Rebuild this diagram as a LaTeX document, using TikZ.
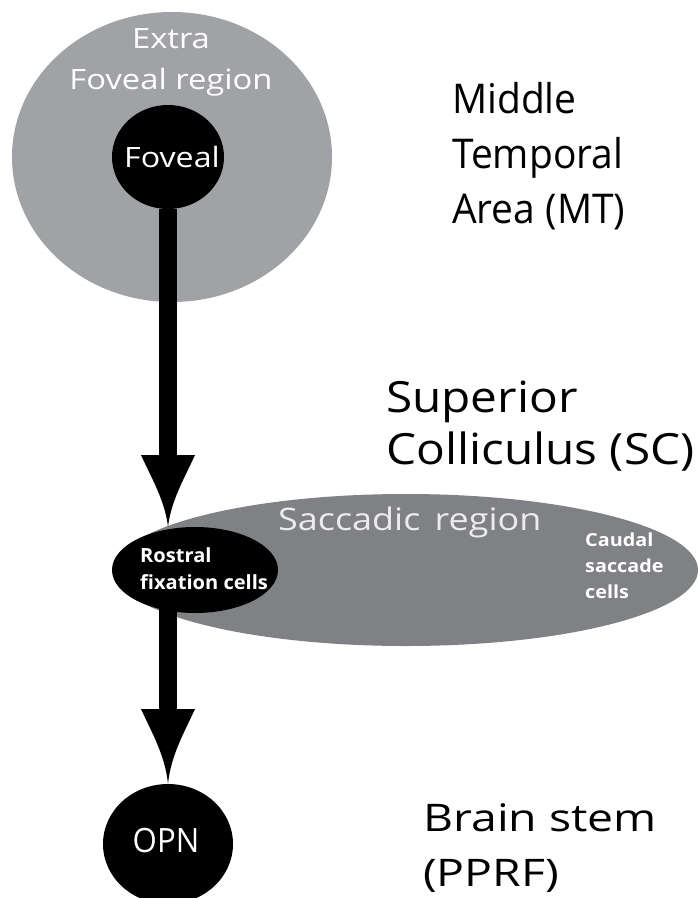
\documentclass[tikz,border=0pt]{standalone}
\usepackage{fontspec}
\setmainfont{Open Sans}
\usetikzlibrary{shapes.geometric,calc}
\definecolor{outergray}{RGB}{161,162,166}
\definecolor{sacgray}{RGB}{128,129,133}
\definecolor{sactext}{RGB}{236,236,238}
\newcommand\osf[3]{\fontspec{Open Sans}[FakeStretch=#1]\fontsize{#2bp}{#3bp}\selectfont}
\begin{document}
\begin{tikzpicture}[x=1bp,y=-1bp,
  region/.style={ellipse, inner sep=0pt, draw=none},
  lbl/.style={inner sep=0pt, align=left, anchor=base west},
  clbl/.style={inner sep=0pt, align=center, anchor=base},
  shaft/.style={line width=18bp, black},
  head/.style={fill=black}]
\fill[white] (0,0) rectangle (698,898);
\useasboundingbox (0,0) rectangle (698,898);
\clip (0,0) rectangle (698,898);
% Middle temporal area
\node[region, fill=outergray, minimum width=320bp, minimum height=290bp] (extra) at (172,157) {};
\node[region, fill=black, minimum width=112bp, minimum height=104bp] (fov) at (168,157) {};
\node[clbl, text=white, font={\osf{1.17}{28}{41}}] (extralbl) at (171,89) {Extra\\Foveal region};
\node[clbl, text=white, font={\osf{1.15}{28}{34}}] (fovlbl) at (172,167) {Foveal};
\coordinate (h1) at (168,455);
\draw[shaft] (fov.south) -- (h1);
% Superior colliculus
\node[region, fill=sacgray, minimum width=584bp, minimum height=152bp] (sac) at (406,570) {};
\node[region, minimum width=166bp, minimum height=86bp] (rost) at (195,570) {};
\coordinate (tip1) at (rost.north -| fov);
\fill[head] ($(h1)+(-27,0)$) -- ($(h1)+(27,0)$) .. controls ($(h1)+(16,24)$) and ($(h1)+(3,46)$) .. (tip1) .. controls ($(h1)+(-3,46)$) and ($(h1)+(-16,24)$) .. cycle;
\coordinate (h2) at (168,709);
\draw[shaft] (rost.center -| fov) -- (h2);
\fill[black] (rost.center) ellipse[x radius=83, y radius=43];
\node[lbl, text=sactext, font={\osf{1.16}{31}{31}}] (saclbl) at (278,530) {Saccadic~\hspace{5bp}region};
\node[lbl, text=white, font={\osf{1.03}{19.5}{27}\bfseries}] (rostlbl) at (140,589) {Rostral\\fixation cells};
\node[lbl, text=white, font={\osf{1.1}{18}{26}\bfseries}] (caudlbl) at (585,598) {Caudal\\saccade\\cells};
% Brain stem
\node[region, fill=black, minimum width=130bp, minimum height=120bp] (opn) at (168,844) {};
\fill[head] ($(h2)+(-27,0)$) -- ($(h2)+(27,0)$) .. controls ($(h2)+(16,24)$) and ($(h2)+(3,46)$) .. (opn.north) .. controls ($(h2)+(-3,46)$) and ($(h2)+(-16,24)$) .. cycle;
\node[clbl, text=white, font={\osf{0.93}{33.5}{34}}] (opnlbl) at (166,852) {OPN};
% right-hand labels
\node[lbl, font={\osf{0.95}{41}{55}}] (mt) at (452,223) {Middle\\Temporal\\Area (MT)};
\node[lbl, font={\osf{1.11}{43}{52}}] (sc) at (386,464) {Superior\\Colliculus (SC)};
\node[lbl, font={\osf{1.22}{38}{55}}] (bs) at (423,886) {Brain stem\\(PPRF)};
\end{tikzpicture}
\end{document}
